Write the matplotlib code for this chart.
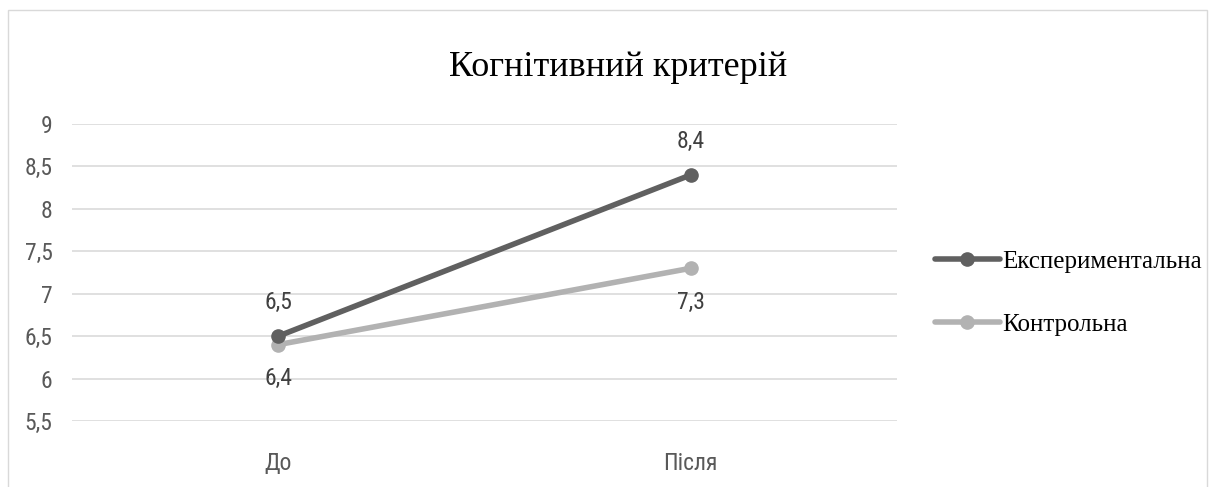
import matplotlib
matplotlib.use('Agg')
from matplotlib import pyplot as plt
from matplotlib.patches import Rectangle

categories = ['До', 'Після']
experimental = [6.5, 8.4]
control = [6.4, 7.3]
series_names = ['Експериментальна', 'Контрольна']
y_ticks = [5.5, 6, 6.5, 7, 7.5, 8, 8.5, 9]

sans = ['Liberation Sans Narrow', 'Roboto Condensed', 'Liberation Sans', 'DejaVu Sans']
serif = ['Liberation Serif', 'DejaVu Serif']

fig = plt.figure(figsize=(12.17, 4.87), dpi=100)
ax = fig.add_axes([72 / 1217, 1 - 421 / 487, (897 - 72) / 1217, (421 - 124) / 487])

x = list(range(len(categories)))
ax.plot(x, experimental, c='#606060', lw=4, marker='o', ms=9.5,
        label=series_names[0], zorder=4, solid_capstyle='round')
ax.plot(x, control, c='#b2b2b2', lw=4, marker='o', ms=9.5,
        label=series_names[1], zorder=3, solid_capstyle='round')

def fmt(v):
    return ('%g' % v).replace('.', ',')

for xi, v in zip(x, experimental):
    ax.annotate(fmt(v), (xi, v), xytext=(0, 16), textcoords='offset points',
                ha='center', va='bottom', fontsize=17, color='#404040', family=sans)
for xi, v in zip(x, control):
    ax.annotate(fmt(v), (xi, v), xytext=(0, -16), textcoords='offset points',
                ha='center', va='top', fontsize=17, color='#404040', family=sans)

ax.set_xlim(-0.5, 1.5)
ax.set_ylim(5.5, 9)
ax.set_yticks(y_ticks)
ax.set_yticklabels([fmt(t) for t in y_ticks], family=sans, fontsize=17, color='#595959')
ax.set_xticks(x)
ax.set_xticklabels(categories, family=sans, fontsize=17, color='#595959')
ax.tick_params(axis='y', length=0, pad=14)
ax.tick_params(axis='x', length=0, pad=22)
ax.grid(axis='y', color='#e0e0e0', lw=1.4)
ax.set_axisbelow(True)
for s in ax.spines.values():
    s.set_visible(False)

fig.text(0.5075, 1 - 68 / 487, 'Когнітивний критерій', ha='center', va='center',
         fontsize=26, family=serif, color='#000000')

fig.legend(loc='center left', bbox_to_anchor=(912 / 1217, 1 - 293 / 487),
           frameon=False, prop={'family': serif, 'size': 18}, handlelength=2.6,
           handletextpad=0.1, labelspacing=1.6)

fig.patches.append(Rectangle((8 / 1217, -0.1), 1199 / 1217, 1.1 - 10 / 487,
                             transform=fig.transFigure, fill=False,
                             edgecolor='#d9d9d9', lw=1))

fig.savefig('out.png', dpi=100)
